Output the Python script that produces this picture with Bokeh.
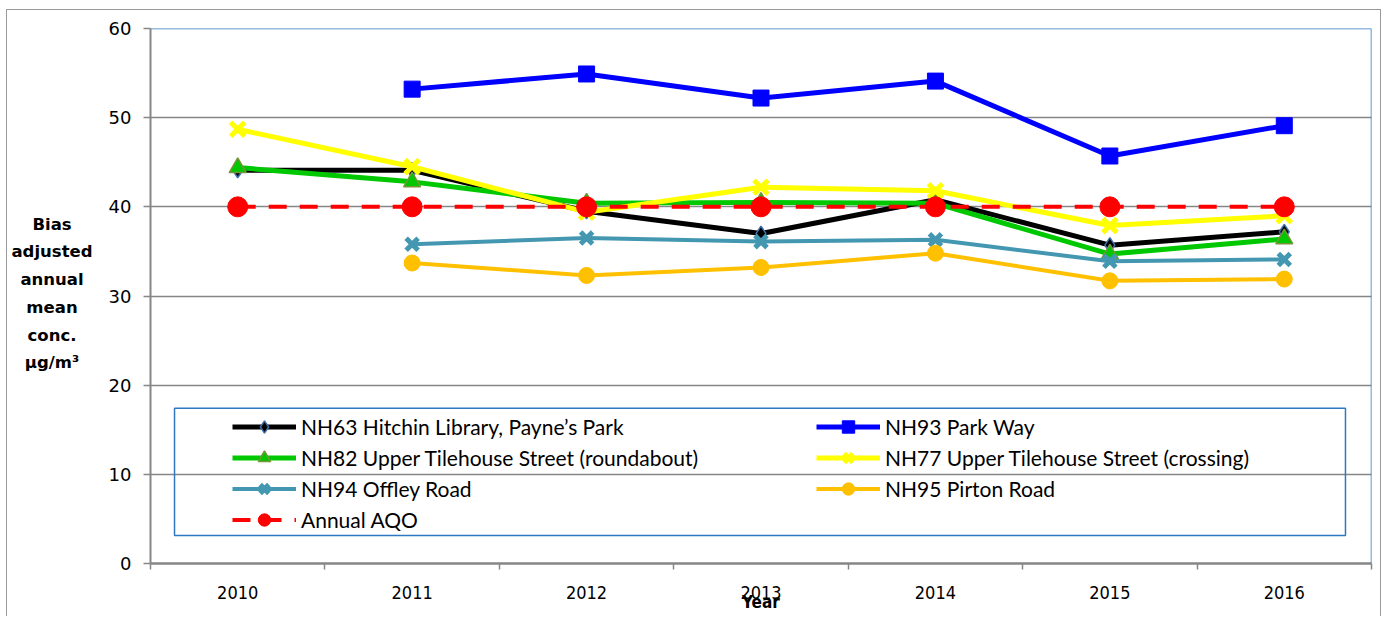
from bokeh.plotting import figure
from bokeh.models import (Range1d, FixedTicker, Legend, LegendItem, Span,
                          BoxAnnotation, Div)
from bokeh.layouts import row
from bokeh.embed import file_html
from bokeh.resources import INLINE

# ---------------- data ----------------
years = [2010, 2011, 2012, 2013, 2014, 2015, 2016]
nh63 = [44.1, 44.1, 39.5, 37.0, 40.8, 35.7, 37.2]
nh93 = [None, 53.2, 54.9, 52.2, 54.1, 45.7, 49.1]
nh82 = [44.4, 42.8, 40.4, 40.5, 40.4, 34.7, 36.4]
nh77 = [48.7, 44.5, 39.4, 42.2, 41.8, 37.9, 39.0]
nh94 = [None, 35.8, 36.5, 36.1, 36.3, 33.9, 34.1]
nh95 = [None, 33.7, 32.3, 33.2, 34.8, 31.7, 31.9]
aqo = [40, 40, 40, 40, 40, 40, 40]

labels = ["NH63 Hitchin Library, Payne\u2019s Park",
          "NH93 Park Way",
          "NH82 Upper Tilehouse Street (roundabout)",
          "NH77 Upper Tilehouse Street (crossing)",
          "NH94 Offley Road",
          "NH95 Pirton Road",
          "Annual AQO"]
y_title_lines = ["Bias", "adjusted", "annual", "mean", "conc.", "\u00b5g/m\u00b3"]
x_title = "Year"
y_ticks = [0, 10, 20, 30, 40, 50, 60]

# ---------------- layout constants (page px) ----------------
OX, OY = 7.5, 10.5          # content origin inside outer border
DIV_W = 95
FL, FR, FT, FB = 151, 1371, 29, 563   # frame edges
CONTENT_W = 1373
FIG_W = CONTENT_W - DIV_W
FIG_H = 606
X0, X1 = 2009.5, 2016.5
Y0, Y1 = 0, 60


def px2x(px):
    return X0 + (px - FL) * (X1 - X0) / (FR - FL)


def py2y(py):
    return Y0 + (FB - py) * (Y1 - Y0) / (FB - FT)


GRAY = "#868686"
BLUE_BORDER = "#2F78C4"

p = figure(width=FIG_W, height=FIG_H, output_backend="svg", toolbar_location=None,
           x_range=Range1d(X0, X1), y_range=Range1d(Y0, Y1),
           min_border_left=int(FL - OX - DIV_W),
           min_border_right=int(OX + CONTENT_W - FR),
           min_border_top=int(round(FT - OY)),
           min_border_bottom=int(OY + FIG_H - FB))
p.outline_line_color = None
p.background_fill_color = "white"
p.border_fill_color = "white"

# axes
p.xaxis.ticker = FixedTicker(ticks=years, minor_ticks=[X0 + i for i in range(8)])
p.xaxis.major_tick_line_color = None
p.xaxis.major_tick_out = 0
p.xaxis.major_tick_in = 0
p.xaxis.minor_tick_out = 6
p.xaxis.minor_tick_in = 0
p.xaxis.minor_tick_line_color = GRAY
p.xaxis.minor_tick_line_width = 1.5
p.xaxis.axis_line_color = GRAY
p.xaxis.axis_line_width = 2.5
p.xaxis.major_label_text_font = "DejaVu Sans Condensed"
p.xaxis.major_label_text_font_size = "18px"
p.xaxis.major_label_text_color = "black"
p.xaxis.major_label_standoff = 16
p.xaxis.axis_label = x_title
p.xaxis.axis_label_text_font = "DejaVu Sans Condensed"
p.xaxis.axis_label_text_font_style = "bold"
p.xaxis.axis_label_text_font_size = "17px"
p.xaxis.axis_label_text_color = "black"
p.xaxis.axis_label_standoff = -10

p.yaxis.ticker = FixedTicker(ticks=y_ticks, minor_ticks=[])
p.yaxis.major_tick_out = 7
p.yaxis.major_tick_in = 0
p.yaxis.major_tick_line_color = GRAY
p.yaxis.major_tick_line_width = 1.5
p.yaxis.axis_line_color = GRAY
p.yaxis.axis_line_width = 2
p.yaxis.major_label_text_font = "DejaVu Sans"
p.yaxis.major_label_text_font_size = "18px"
p.yaxis.major_label_text_color = "black"
p.yaxis.major_label_standoff = 12

p.xgrid.grid_line_color = None
p.ygrid.grid_line_color = GRAY
p.ygrid.grid_line_width = 1.5

# frame top/right border (blue)
p.add_layout(Span(location=Y1, dimension="width", line_color=BLUE_BORDER, line_width=1.5))
p.add_layout(Span(location=X1, dimension="height", line_color=BLUE_BORDER, line_width=1.5))

# ---------------- series ----------------
styles = [
    dict(color="black", lw=5, marker="diamond", size=15, fill="black", mline="#3F6FA8", mlw=1.5, dash="solid"),
    dict(color="#0000FF", lw=5, marker="square", size=16, fill="#0000FF", mline="#0000FF", mlw=1, dash="solid"),
    dict(color="#00C800", lw=5, marker="triangle", size=17, fill="#00C800", mline="#77933C", mlw=1.5, dash="solid"),
    dict(color="#FFFF00", lw=5, marker="x", size=20, fill="#FFFF00", mline="#FFFF00", mlw=5, dash="solid"),
    dict(color="#4397B0", lw=4, marker="x", size=17, fill="#4397B0", mline="#4397B0", mlw=5, dash="solid"),
    dict(color="#FFC000", lw=4, marker="circle", size=16, fill="#FFC000", mline="#FFC000", mlw=1, dash="solid"),
    dict(color="#FF0000", lw=4, marker="circle", size=20, fill="#FF0000", mline="#FF0000", mlw=1, dash="18 13"),
]
series = [nh63, nh93, nh82, nh77, nh94, nh95, aqo]

items = []
for lab, vals, st in zip(labels, series, styles):
    xs = [x for x, v in zip(years, vals) if v is not None]
    ys = [v for v in vals if v is not None]
    lr = p.line(xs, ys, line_color=st["color"], line_width=st["lw"], line_dash=st["dash"])
    sr = p.scatter(xs, ys, marker=st["marker"], size=st["size"], fill_color=st["fill"],
                   line_color=st["mline"], line_width=st["mlw"])
    items.append(LegendItem(label=lab, renderers=[lr, sr]))

# legend fills column-major: left column = items 0,2,4,6 ; right column = 1,3,5
legend_items = [items[i] for i in (0, 2, 4, 6, 1, 3, 5)]
legend = Legend(items=legend_items, ncols=2, location=(233 - FL, 28),
                padding=0, margin=0, spacing=0,
                glyph_width=64, glyph_height=31, label_height=31,
                label_width=515, label_standoff=5,
                label_text_font="Lato", label_text_font_size="21px",
                label_text_color="black",
                border_line_color=None, background_fill_alpha=0)
p.add_layout(legend)

# legend box border
p.add_layout(BoxAnnotation(left=px2x(175), right=px2x(1345), top=py2y(408), bottom=py2y(535),
                           fill_alpha=0, line_color=BLUE_BORDER, line_alpha=1, line_width=1.5))

# y-axis title (multi-line, horizontal) as a side Div
first_center = 225
line_h = 27.7
ytitle = Div(
    text=('<div style="width:90px; padding-top:%.1fpx; text-align:center; '
          'font-family:\'DejaVu Sans\'; font-weight:bold; font-size:16.5px; '
          'line-height:%.1fpx; color:black;">%s</div>')
    % (first_center - OY - line_h / 2, line_h, "<br>".join(y_title_lines)),
    width=DIV_W, height=FIG_H, margin=0)

root = row(ytitle, p, spacing=0,
           styles={"margin-left": "6px", "margin-top": "9px",
                   "border-top": "1.5px solid #9a9a9a",
                   "border-left": "1.5px solid #9a9a9a",
                   "border-right": "1.5px solid #9a9a9a"})

open("out.html", "w").write(file_html(root, INLINE))
